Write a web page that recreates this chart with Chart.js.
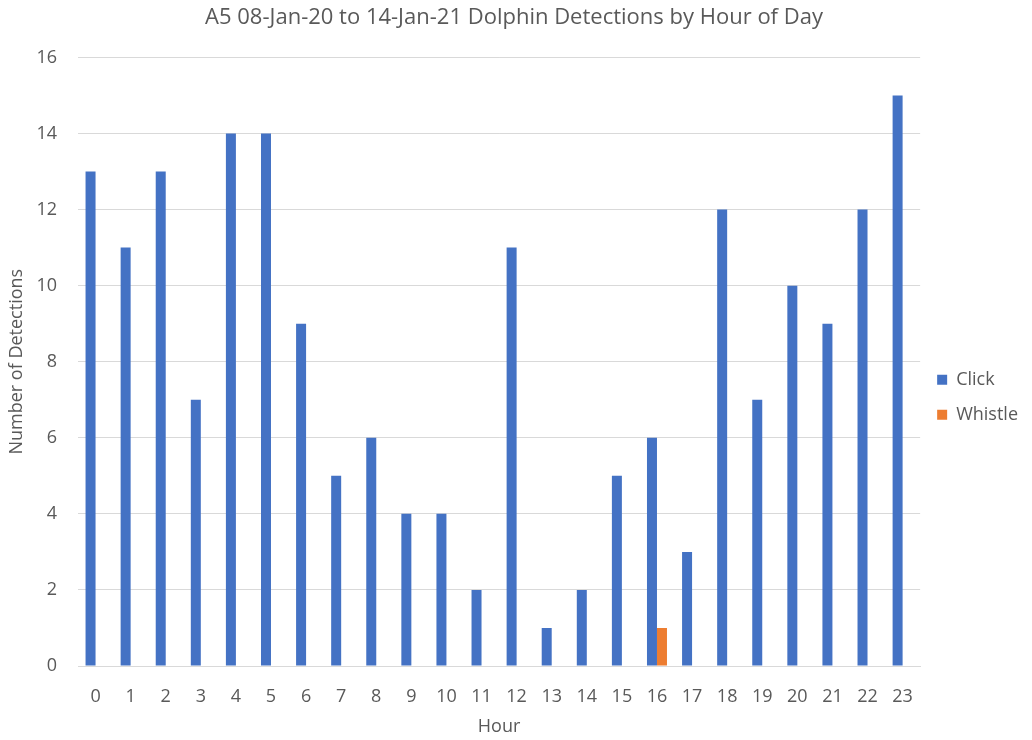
<!DOCTYPE html>
<html>
<head>
<meta charset="utf-8">
<script src="https://cdn.jsdelivr.net/npm/chart.js@4/dist/chart.umd.min.js"></script>
<style>
    html, body { margin: 0; padding: 0; background: #fff; }
    #wrap { width: 1032px; height: 740px; }
</style>
</head>
<body>
<div id="wrap"><canvas id="chart" width="1032" height="740"></canvas></div>
<script>
const HOURS   = ['0','1','2','3','4','5','6','7','8','9','10','11','12','13','14','15','16','17','18','19','20','21','22','23'];
const CLICK   = [13, 11, 13, 7, 14, 14, 9, 5, 6, 4, 4, 2, 11, 1, 2, 5, 6, 3, 12, 7, 10, 9, 12, 15];
const WHISTLE = [0, 0, 0, 0, 0, 0, 0, 0, 0, 0, 0, 0, 0, 0, 0, 0, 1, 0, 0, 0, 0, 0, 0, 0];

const TEXT = '#595959';

Chart.defaults.font.family = "'Open Sans', sans-serif";
Chart.defaults.color = TEXT;

new Chart(document.querySelector('#chart'), {
    type: 'bar',
    data: {
        labels: HOURS,
        datasets: [
            { label: 'Click',   data: CLICK,   backgroundColor: '#4472C4' },
            { label: 'Whistle', data: WHISTLE, backgroundColor: '#ED7D31' }
        ]
    },
    options: {
        responsive: false,
        animation: false,
        layout: { padding: { left: 0, right: 4, top: 0, bottom: 0 } },
        datasets: { bar: { categoryPercentage: 0.57, barPercentage: 1.0 } },
        plugins: {
            title: {
                display: true,
                text: 'A5 08-Jan-20 to 14-Jan-21 Dolphin Detections by Hour of Day',
                font: { size: 22, weight: 'normal' },
                color: TEXT,
                padding: { top: 5, bottom: 26 }
            },
            legend: {
                position: 'right',
                // empty title only pushes the items down a bit
                title: { display: true, text: ' ', padding: 20 },
                labels: {
                    boxWidth: 10, boxHeight: 10,
                    padding: 17,
                    font: { size: 18 },
                    color: TEXT
                }
            },
            tooltip: { enabled: false }
        },
        scales: {
            x: {
                grid: { display: false },
                border: { color: '#D9D9D9' },
                ticks: { font: { size: 18 }, padding: 12 },
                title: { display: true, text: 'Hour', font: { size: 18 }, padding: { top: 2, bottom: 2 } },
                afterFit: s => { s.height = 74; }
            },
            y: {
                min: 0, max: 16,
                ticks: { stepSize: 2, font: { size: 18 }, padding: 21 },
                grid: { color: '#D9D9D9', drawTicks: false },
                border: { display: false },
                title: { display: true, text: 'Number of Detections', font: { size: 18 }, padding: { top: 6, bottom: 0 } },
                afterFit: s => { s.width = 78; }
            }
        }
    }
});
</script>
</body>
</html>
